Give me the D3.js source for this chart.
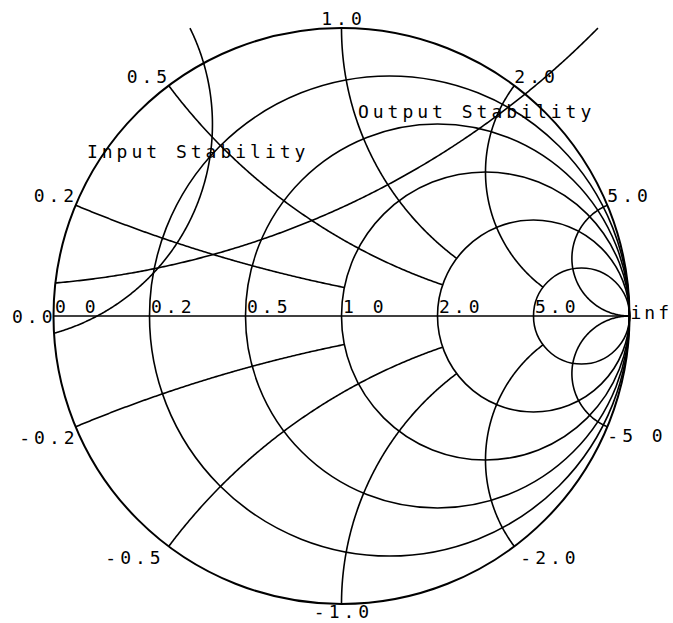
<!DOCTYPE html>
<html>
<head>
<meta charset="utf-8">
<script src="https://cdn.jsdelivr.net/npm/d3@7"></script>
<style>
  html, body { margin: 0; padding: 0; background: #fff; }
  svg text {
    font-family: "DejaVu Sans Mono", monospace;
    font-size: 18px;
    letter-spacing: 4px;
    fill: #000;
  }
</style>
</head>
<body>
<svg id="chart" width="673" height="623"></svg>
<script>
// Normalised resistance circles and reactance arcs of the Smith chart grid
const resistances = [0, 0.2, 0.5, 1, 2, 5];
const resistanceLabels = ["0 0", "0.2", "0.5", "1 0", "2.0", "5.0"];
const reactances = [0.2, 0.5, 1, 2, 5, -0.2, -0.5, -1, -2, -5];
const reactanceLabels = ["0.2", "0.5", "1.0", "2.0", "5.0", "-0.2", "-0.5", "-1.0", "-2.0", "-5 0"];
// each reactance arc stops on this resistance circle (Infinity = runs to the open-circuit point)
const reactanceStopR = [1, 2, 2, 5, Infinity, 1, 2, 2, 5, Infinity];
const edgeLabels = ["0.0", "inf"];

// Stability circles in the reflection-coefficient plane
const stabilityNames = ["Input Stability", "Output Stability"];
const stabilityCenterRe = [-1.2016, -1.252];
const stabilityCenterIm = [0.6656, 3.1125];
const stabilityRadius = [0.7535, 3.009];
const stabilityArcFrom = [26.3, -44.6];   // degrees
const stabilityArcTo = [-74.1, -85.1];    // degrees

// ---- layout ----
const cx = 341.5, cy = 316, R = 288;
const LS = 4; // letter spacing, compensated for end / middle anchors
const reactanceLabelPlacement = [
  ["end", -1.5, -3], ["end", -1.5, -3], ["middle", 0, -3], ["start", 0, -3], ["start", 0, -3],
  ["end", -1, 17], ["end", -8, 18], ["middle", 0, 14], ["start", 6, 18], ["start", 0, 15]
];
const stabilityLabelPos = [[-0.884, 0.549], [0.057, 0.6875]];

const svg = d3.select("#chart");
const x = d3.scaleLinear().domain([-1, 1]).range([cx - R, cx + R]);
const y = d3.scaleLinear().domain([-1, 1]).range([cy + R, cy - R]);
const line = d3.line().x(d => x(d[0])).y(d => y(d[1]));
const rad = Math.PI / 180;

function anchorShift(anchor) {
  return anchor === "end" ? LS : anchor === "middle" ? LS / 2 : 0;
}

const grid = svg.append("g")
  .attr("fill", "none")
  .attr("stroke", "#000")
  .attr("stroke-width", 1.6);

// real axis
grid.append("path").attr("d", line([[-1, 0], [1, 0]]));

// constant-resistance circles
grid.selectAll("circle.res")
  .data(resistances)
  .join("circle")
  .attr("class", "res")
  .attr("cx", r => x(r / (1 + r)))
  .attr("cy", y(0))
  .attr("r", r => x(1 / (1 + r)) - x(0))
  .attr("stroke-width", r => r === 0 ? 2 : 1.6);

// constant-reactance arcs, from the rim inward to their stopping resistance circle
function norm(t) { return t < 0 ? t + 2 * Math.PI : t; }
function reactanceArc(xv, stopR) {
  const a = Math.abs(xv), s = Math.sign(xv);
  const k = a * a + 1;
  const start = norm(Math.atan2((a * a - 1) / k, -2 * a / k));
  let end = 1.5 * Math.PI;
  if (isFinite(stopR)) {
    const d = (stopR + 1) * (stopR + 1) + a * a;
    const gr = (stopR * stopR + a * a - 1) / d, gi = 2 * a / d;
    end = norm(Math.atan2(gi - 1 / a, gr - 1));
  }
  return d3.range(0, 201).map(i => {
    const t = start + (end - start) * i / 200;
    return [1 + Math.cos(t) / a, s * (1 / a + Math.sin(t) / a)];
  });
}
grid.selectAll("path.reac")
  .data(reactances)
  .join("path")
  .attr("class", "reac")
  .attr("d", (xv, i) => line(reactanceArc(xv, reactanceStopR[i])));

// stability circles
function stabilityArc(i) {
  const c0 = stabilityCenterRe[i], c1 = stabilityCenterIm[i], r = stabilityRadius[i];
  const a0 = stabilityArcFrom[i] * rad, a1 = stabilityArcTo[i] * rad;
  return d3.range(0, 301).map(j => {
    const t = a0 + (a1 - a0) * j / 300;
    return [c0 + r * Math.cos(t), c1 + r * Math.sin(t)];
  });
}
grid.selectAll("path.stab")
  .data(stabilityNames.map((_, i) => i))
  .join("path")
  .attr("class", "stab")
  .attr("d", i => line(stabilityArc(i)));

// resistance labels along the real axis
svg.selectAll("text.rl")
  .data(resistances)
  .join("text")
  .attr("class", "rl")
  .attr("x", r => x((r - 1) / (r + 1)) + 1.5)
  .attr("y", y(0) - 3)
  .text((r, i) => resistanceLabels[i]);

// edge labels
svg.append("text")
  .attr("x", x(-1) - 1 + LS)
  .attr("y", y(0) + 7)
  .attr("text-anchor", "end")
  .text(edgeLabels[0]);
svg.append("text")
  .attr("x", x(1) + 1)
  .attr("y", y(0) + 3)
  .style("letter-spacing", "3px")
  .text(edgeLabels[1]);

// reactance labels at the rim
svg.selectAll("text.xl")
  .data(reactances)
  .join("text")
  .attr("class", "xl")
  .each(function (xv, i) {
    const a = xv * xv + 1;
    const px = x((xv * xv - 1) / a), py = y(2 * xv / a);
    const [anchor, dx, dy] = reactanceLabelPlacement[i];
    d3.select(this)
      .attr("text-anchor", anchor)
      .attr("x", px + dx + anchorShift(anchor))
      .attr("y", py + dy)
      .text(reactanceLabels[i]);
  });

// stability circle names
svg.selectAll("text.sl")
  .data(stabilityNames)
  .join("text")
  .attr("class", "sl")
  .attr("x", (d, i) => x(stabilityLabelPos[i][0]))
  .attr("y", (d, i) => y(stabilityLabelPos[i][1]))
  .text(d => d);
</script>
</body>
</html>
